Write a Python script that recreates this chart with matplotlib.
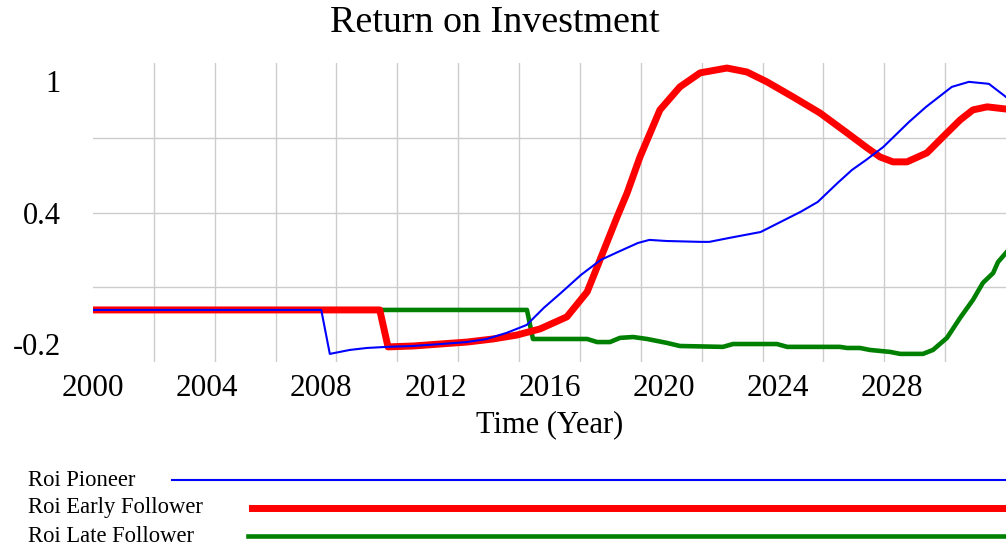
import matplotlib
matplotlib.use("Agg")
import matplotlib.pyplot as plt
from matplotlib.lines import Line2D

plt.rcParams['font.family'] = ['Liberation Serif', 'DejaVu Serif']

title = "Return on Investment"
x_label = "Time (Year)"
series_names = ["Roi Pioneer", "Roi Early Follower", "Roi Late Follower"]
series_colors = ["#0000ff", "#ff0000", "#008000"]

pioneer_t = [2000, 2008.0, 2008.3, 2009.0, 2009.6, 2010.3, 2011.2, 2012.2, 2013.1, 2013.8,
             2014.5, 2015.2, 2015.8, 2016.4, 2017.1, 2017.8, 2018.4, 2019.1, 2019.5, 2020.1,
             2021.3, 2021.6, 2022.3, 2023.4, 2024.1, 2024.8, 2025.4, 2026.1, 2026.6, 2027.1,
             2027.7, 2028.6, 2029.2, 2030.1, 2030.7, 2031.4, 2032.0]
pioneer_v = [-0.0425, -0.0425, -0.243, -0.225, -0.216, -0.211, -0.207, -0.198, -0.189, -0.175,
             -0.147, -0.111, -0.033, 0.035, 0.117, 0.186, 0.222, 0.263, 0.277, 0.272,
             0.268, 0.268, 0.286, 0.313, 0.359, 0.405, 0.450, 0.537, 0.596, 0.642,
             0.701, 0.815, 0.884, 0.975, 0.998, 0.989, 0.929]

early_t = [2000, 2010.05, 2010.34, 2011.22, 2012.16, 2013.11, 2014.02, 2014.86, 2015.67, 2016.61,
           2017.32, 2017.77, 2018.37, 2018.72, 2019.17, 2019.87, 2020.57, 2021.28, 2022.22, 2022.92,
           2023.62, 2024.54, 2025.48, 2026.43, 2027.13, 2027.59, 2028.04, 2028.53, 2029.23, 2029.79,
           2030.39, 2030.84, 2031.34, 2032.0]
early_v = [-0.0425, -0.0425, -0.211, -0.207, -0.198, -0.189, -0.175, -0.157, -0.129, -0.074,
           0.040, 0.186, 0.382, 0.491, 0.655, 0.870, 0.975, 1.039, 1.061, 1.043,
           0.998, 0.929, 0.856, 0.765, 0.697, 0.655, 0.633, 0.633, 0.674, 0.747,
           0.824, 0.870, 0.884, 0.874]

late_t = [2000, 2015.21, 2015.42, 2017.32, 2017.67, 2018.12, 2018.47, 2018.93, 2019.42, 2020.12,
          2020.57, 2022.08, 2022.43, 2023.97, 2024.33, 2026.18, 2026.43, 2026.88, 2027.23, 2027.94,
          2028.29, 2029.09, 2029.44, 2029.93, 2030.39, 2030.84, 2031.19, 2031.55, 2031.72, 2032.0]
late_v = [-0.0425, -0.0425, -0.175, -0.175, -0.189, -0.189, -0.170, -0.166, -0.175, -0.193,
          -0.207, -0.211, -0.198, -0.198, -0.211, -0.211, -0.216, -0.216, -0.225, -0.234,
          -0.243, -0.243, -0.225, -0.170, -0.079, 0.003, 0.081, 0.126, 0.176, 0.218]

x_ticks = [2000, 2004, 2008, 2012, 2016, 2020, 2024, 2028]
y_ticks = [1, 0.4, -0.2]
y_tick_labels = ["1", "0.4", "-0.2"]

W, H = 1006, 547
fig = plt.figure(figsize=(W / 100, H / 100), dpi=100)
ax = fig.add_axes([93 / W, 1 - 362 / H, (1006 - 93) / W, (362 - 63) / H])

x0, x1 = 2000, 2032
y0, y1 = -0.28, 1.084
ax.set_xlim(x0, x1)
ax.set_ylim(y0, y1)

# grid: 15 vertical divisions, 4 horizontal divisions
for k in range(1, 15):
    ax.axvline(x0 + k * (x1 - x0) / 15, color="#cccccc", lw=1.0, zorder=0)
for k in range(1, 4):
    ax.axhline(y0 + k * (y1 - y0) / 4, color="#cccccc", lw=1.0, zorder=0)

lws = [1.5, 5.0, 3.3]
ax.plot(late_t, late_v, color=series_colors[2], lw=lws[2], zorder=2, solid_joinstyle="round")
ax.plot(early_t, early_v, color=series_colors[1], lw=lws[1], zorder=3, solid_joinstyle="round")
ax.plot(pioneer_t, pioneer_v, color=series_colors[0], lw=lws[0], zorder=4, solid_joinstyle="round")

for s in ax.spines.values():
    s.set_visible(False)

ax.set_xticks(x_ticks)
ax.set_xticklabels([str(x) for x in x_ticks], fontsize=22.5)
ax.set_yticks(y_ticks)
ax.set_yticklabels(y_tick_labels, fontsize=22)
ax.tick_params(axis="both", length=0)
ax.tick_params(axis="x", pad=9)
ax.tick_params(axis="y", pad=23)

ax.set_xlabel(x_label, fontsize=22, labelpad=5)
fig.text(495 / W, 1 - 23 / H, title, fontsize=27.4, ha="center", va="center")

# legend
leg_y = [480, 508, 536]
leg_x0 = [172, 252, 248]
for name, c, lw, yy, lx in zip(series_names, series_colors, lws, leg_y, leg_x0):
    fig.text(28 / W, 1 - yy / H, name, fontsize=16.3, ha="left", va="center")
    fig.add_artist(Line2D([lx / W, 1.0], [1 - yy / H, 1 - yy / H], color=c, lw=lw,
                          transform=fig.transFigure))

fig.savefig("out.png", dpi=100)
